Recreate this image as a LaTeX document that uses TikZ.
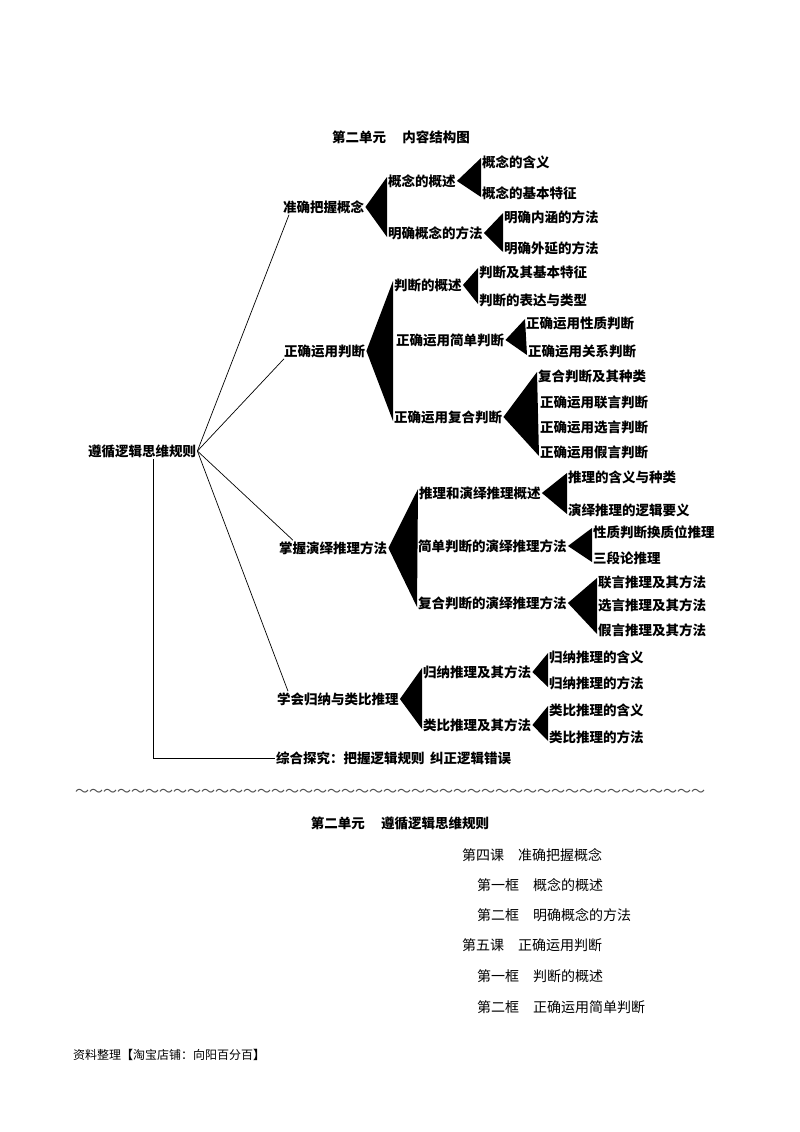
\documentclass[tikz,border=0pt]{standalone}
\usepackage{fontspec}
\newfontfamily\cjk{Noto Sans CJK SC}
\newcommand{\wedgefan}[3]{\fill (#1.east) -- ([yshift=4pt]#2.west) -- ([yshift=-4pt]#3.west) -- cycle;}
\begin{document}
\begin{tikzpicture}[x=1pt,y=-1pt,
  lbl/.style={anchor=west, inner sep=1pt, font=\cjk\bfseries\fontsize{13.5}{14}\selectfont},
  txt/.style={anchor=west, inner sep=0pt, font=\cjk\fontsize{14}{15}\selectfont},
  tie/.style={line width=0.7pt}]
\useasboundingbox (0,0) rectangle (800,1132);
% Title
\node[lbl, anchor=center] (title) at (401,137) {第二单元\hspace{1.2em}内容结构图};
% Root and level 1
\node[lbl] (root) at (87,451) {遵循逻辑思维规则};
\node[lbl] (a) at (282,207) {准确把握概念};
\node[lbl] (b) at (283,351) {正确运用判断};
\node[lbl] (c) at (278,548) {掌握演绎推理方法};
\node[lbl] (d) at (276,699) {学会归纳与类比推理};
\node[lbl] (e) at (275,758) {综合探究：把握逻辑规则\hspace{0.4em}纠正逻辑错误};
\draw[tie] (root.east) -- ([xshift=7pt]a.south west);
\draw[tie] (root.east) -- ([xshift=1pt]b.south west);
\draw[tie] (root.east) -- ([xshift=15pt]c.north west);
\draw[tie] (root.east) -- ([xshift=12pt]d.north west);
\draw[line width=0.9pt] ([xshift=11pt]root.south) |- (e.west);
% Concepts
\node[lbl] (a1) at (387,181) {概念的概述};
\node[lbl] (a2) at (387,233) {明确概念的方法};
\node[lbl] (a11) at (481,162) {概念的含义};
\node[lbl] (a12) at (481,193) {概念的基本特征};
\node[lbl] (a21) at (503,217) {明确内涵的方法};
\node[lbl] (a22) at (503,248) {明确外延的方法};
\wedgefan{a}{a1}{a2}
\wedgefan{a1}{a11}{a12}
\wedgefan{a2}{a21}{a22}
% Judgements
\node[lbl] (b1) at (393,285) {判断的概述};
\node[lbl] (b2) at (395,340) {正确运用简单判断};
\node[lbl] (b3) at (393,417) {正确运用复合判断};
\node[lbl] (b11) at (478,272) {判断及其基本特征};
\node[lbl] (b12) at (478,300) {判断的表达与类型};
\node[lbl] (b21) at (525,323) {正确运用性质判断};
\node[lbl] (b22) at (527,351) {正确运用关系判断};
\node[lbl] (b31) at (537,376) {复合判断及其种类};
\node[lbl] (b32) at (539,402) {正确运用联言判断};
\node[lbl] (b33) at (539,427) {正确运用选言判断};
\node[lbl] (b34) at (539,452) {正确运用假言判断};
\wedgefan{b}{b1}{b3}
\wedgefan{b1}{b11}{b12}
\wedgefan{b2}{b21}{b22}
\wedgefan{b3}{b31}{b34}
% Deduction
\node[lbl] (c1) at (418,493) {推理和演绎推理概述};
\node[lbl] (c2) at (417,546) {简单判断的演绎推理方法};
\node[lbl] (c3) at (417,603) {复合判断的演绎推理方法};
\node[lbl] (c11) at (567,477) {推理的含义与种类};
\node[lbl] (c12) at (567,510) {演绎推理的逻辑要义};
\node[lbl] (c21) at (592,532) {性质判断换质位推理};
\node[lbl] (c22) at (592,558) {三段论推理};
\node[lbl] (c31) at (597,582) {联言推理及其方法};
\node[lbl] (c32) at (597,605) {选言推理及其方法};
\node[lbl] (c33) at (597,630) {假言推理及其方法};
\wedgefan{c}{c1}{c3}
\wedgefan{c1}{c11}{c12}
\wedgefan{c2}{c21}{c22}
\wedgefan{c3}{c31}{c33}
% Induction and analogy
\node[lbl] (d1) at (422,672) {归纳推理及其方法};
\node[lbl] (d2) at (422,725) {类比推理及其方法};
\node[lbl] (d11) at (548,657) {归纳推理的含义};
\node[lbl] (d12) at (548,683) {归纳推理的方法};
\node[lbl] (d21) at (548,710) {类比推理的含义};
\node[lbl] (d22) at (548,737) {类比推理的方法};
\wedgefan{d}{d1}{d2}
\wedgefan{d1}{d11}{d12}
\wedgefan{d2}{d21}{d22}
% Separator and contents list
\node[txt, anchor=center, text=black!70] (wave) at (390,793) {～～～～～～～～～～～～～～～～～～～～～～～～～～～～～～～～～～～～～～～～～～～～～};
\node[lbl, anchor=center] (unit) at (400,823) {第二单元\hspace{1.2em}遵循逻辑思维规则};
\node[txt] (l4) at (462,855) {第四课\hspace{1em}准确把握概念};
\node[txt] (l41) at (477,885) {第一框\hspace{1em}概念的概述};
\node[txt] (l42) at (477,915) {第二框\hspace{1em}明确概念的方法};
\node[txt] (l5) at (462,945) {第五课\hspace{1em}正确运用判断};
\node[txt] (l51) at (477,976) {第一框\hspace{1em}判断的概述};
\node[txt] (l52) at (477,1007) {第二框\hspace{1em}正确运用简单判断};
\node[txt, font=\cjk\fontsize{12}{13}\selectfont] (foot) at (73,1055) {资料整理{\bfseries 【}淘宝店铺：向阳百分百{\bfseries 】}};
\end{tikzpicture}
\end{document}
